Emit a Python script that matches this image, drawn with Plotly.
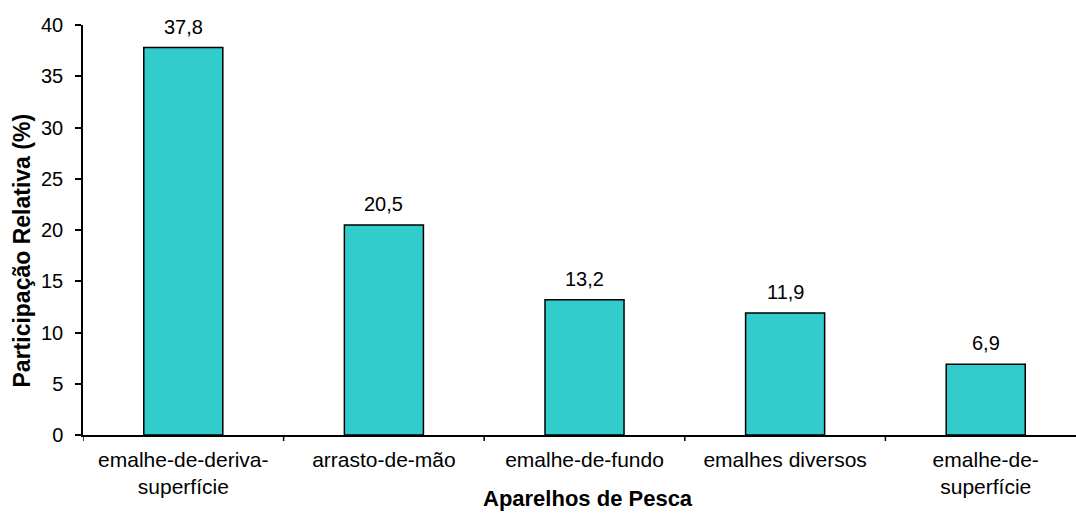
import plotly.graph_objects as go

categories = ["emalhe-de-deriva-<br>superfície", "arrasto-de-mão", "emalhe-de-fundo",
              "emalhes diversos", "emalhe-de-<br>superfície"]
values = [37.8, 20.5, 13.2, 11.9, 6.9]
value_labels = ["37,8", "20,5", "13,2", "11,9", "6,9"]
y_ticks = [0, 5, 10, 15, 20, 25, 30, 35, 40]

FONT = "Liberation Sans, Arial, sans-serif"
FS = 20
TFS = 22

fig = go.Figure()
fig.add_trace(go.Bar(
    x=list(range(len(categories))), y=values,
    marker=dict(color="#33CCCC", line=dict(color="black", width=1.5)),
    width=0.394,
))

for i, (v, lab) in enumerate(zip(values, value_labels)):
    fig.add_annotation(x=i, y=v, xref="x", yref="y", text=lab, showarrow=False,
                       yanchor="bottom", yshift=8,
                       font=dict(family=FONT, size=FS, color="black"))

fig.add_annotation(x=2, y=0, xref="x", yref="paper", text="<b>Aparelhos de Pesca</b>",
                   showarrow=False, yanchor="middle", xshift=3, yshift=-63.5,
                   font=dict(family=FONT, size=TFS, color="black"))

fig.add_annotation(x=0, y=0.45, xref="paper", yref="paper",
                   text="<b>Participação Relativa (%)</b>", textangle=-90,
                   showarrow=False, xanchor="center", yanchor="middle", xshift=-62,
                   font=dict(family=FONT, size=23, color="black"))

fig.update_layout(
    width=1076, height=513,
    margin=dict(l=83, r=0, t=24.5, b=77.5, autoexpand=False),
    paper_bgcolor="white", plot_bgcolor="white",
    showlegend=False,
    font=dict(family=FONT, size=FS, color="black"),
    xaxis=dict(
        tickmode="array", tickvals=list(range(len(categories))), ticktext=categories,
        range=[-0.5, 4.45], showline=True, linecolor="black", linewidth=1.5,
        ticks="", showgrid=False, zeroline=False, tickfont=dict(size=21),
        automargin=False, ticklabelstandoff=5,
    ),
    yaxis=dict(
        range=[0, 40], tickvals=y_ticks, showline=True, linecolor="black", linewidth=1.5,
        ticks="outside", ticklen=6, tickwidth=1.5, tickcolor="black",
        showgrid=False, zeroline=False, tickfont=dict(size=FS), automargin=False,
        ticklabelstandoff=8,
    ),
)

# category boundary ticks on x axis
for b in [-0.5, 0.5, 1.5, 2.5, 3.5]:
    fig.add_shape(type="line", xref="x", yref="paper", x0=b, x1=b, y0=-6, y1=0,
                  line=dict(color="black", width=1.5), ysizemode="pixel", yanchor=0)

fig.write_html("out.html", config={"displayModeBar": False},
               post_script="document.body.style.margin='0';")
